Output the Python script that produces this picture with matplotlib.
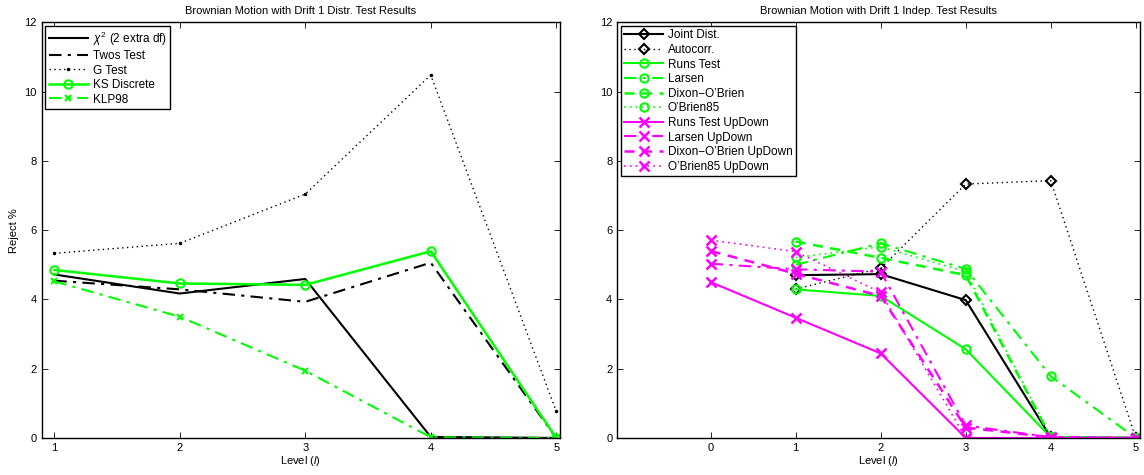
import matplotlib
matplotlib.use("Agg")
import matplotlib.pyplot as plt

plt.rcParams['font.family'] = ['Liberation Sans', 'DejaVu Sans']
plt.rcParams['mathtext.fontset'] = 'custom'
plt.rcParams['mathtext.rm'] = 'Liberation Sans'
plt.rcParams['mathtext.it'] = 'Liberation Sans:italic'

# left panel: distribution tests
levels_left = [1, 2, 3, 4, 5]
chi2 = [4.72, 4.17, 4.59, 0.03, 0.0]
twos = [4.54, 4.29, 3.93, 5.06, 0.0]
g_test = [5.33, 5.62, 7.04, 10.48, 0.77]
ks_discrete = [4.85, 4.46, 4.42, 5.39, 0.0]
klp98 = [4.52, 3.50, 1.94, 0.02, 0.0]

# right panel: independence tests
levels_right = [1, 2, 3, 4, 5]
joint_dist = [4.70, 4.73, 3.98, 0.02, 0.0]
autocorr = [4.30, 4.90, 7.33, 7.43, 0.0]
runs = [4.29, 4.10, 2.56, 0.02, 0.0]
larsen = [5.00, 5.62, 4.88, 1.78, 0.0]
dixon = [5.67, 5.20, 4.70, 0.02, 0.0]
obrien85 = [5.21, 5.52, 4.80, 0.02, 0.0]
levels_updown = [0, 1, 2, 3, 4, 5]
runs_ud = [4.50, 3.47, 2.44, 0.0, 0.0, 0.0]
larsen_ud = [5.03, 4.87, 4.80, 0.36, 0.02, 0.0]
dixon_ud = [5.40, 4.74, 4.10, 0.30, 0.02, 0.0]
obrien85_ud = [5.71, 5.38, 4.20, 0.0, 0.0, 0.0]

GREEN = '#00ff00'
MAG = '#ff00ff'
DASH = (0, (4, 3))
DASHDOT = (0, (6, 3, 1.5, 3))
DOT = (0, (1, 2.5))

fig = plt.figure(figsize=(11.44, 4.75), dpi=100)
ax1 = fig.add_axes([0.0365, 0.078, 0.453, 0.875])
ax2 = fig.add_axes([0.5395, 0.078, 0.457, 0.875])

ax1.plot(levels_left, chi2, color='k', lw=1.5, ls='-', label=r'$\chi^2$ (2 extra df)')
ax1.plot(levels_left, twos, color='k', lw=1.5, ls=DASHDOT, label='Twos Test')
ax1.plot(levels_left, g_test, color='k', lw=1.0, ls=DOT, marker='.', ms=3, label='G Test')
ax1.plot(levels_left, ks_discrete, color=GREEN, lw=1.8, ls='-', marker='o', ms=6,
         mfc='none', mew=1.5, label='KS Discrete')
ax1.plot(levels_left, klp98, color=GREEN, lw=1.5, ls=DASHDOT, marker='x', ms=4,
         mew=1.5, label='KLP98')
ax1.set_xlim(0.9, 5.03)
ax1.set_xticks(levels_left)
ax1.set_title('Brownian Motion with Drift 1 Distr. Test Results', fontsize=8, pad=6)
ax1.set_ylabel('Reject %', fontsize=8)

ax2.plot(levels_right, joint_dist, color='k', lw=1.5, ls='-', marker='D', ms=5,
         mfc='none', mew=1.5, label='Joint Dist.')
ax2.plot(levels_right, autocorr, color='k', lw=1.0, ls=DOT, marker='D', ms=5,
         mfc='none', mew=1.5, label='Autocorr.')
ax2.plot(levels_right, runs, color=GREEN, lw=1.5, ls='-', marker='o', ms=6,
         mfc='none', mew=1.5, label='Runs Test')
ax2.plot(levels_right, larsen, color=GREEN, lw=1.5, ls=DASHDOT, marker='o', ms=6,
         mfc='none', mew=1.5, label='Larsen')
ax2.plot(levels_right, dixon, color=GREEN, lw=1.8, ls=DASH, marker='o', ms=6,
         mfc='none', mew=1.5, label='Dixon\u2212O\u2019Brien')
ax2.plot(levels_right, obrien85, color=GREEN, lw=1.2, ls=DOT, marker='o', ms=6,
         mfc='none', mew=1.5, label='O\u2019Brien85')
ax2.plot(levels_updown, runs_ud, color=MAG, lw=1.5, ls='-', marker='x', ms=7,
         mew=1.8, label='Runs Test UpDown')
ax2.plot(levels_updown, larsen_ud, color=MAG, lw=1.5, ls=DASHDOT, marker='x', ms=7,
         mew=1.8, label='Larsen UpDown')
ax2.plot(levels_updown, dixon_ud, color=MAG, lw=1.8, ls=DASH, marker='x', ms=7,
         mew=1.8, label='Dixon\u2212O\u2019Brien UpDown')
ax2.plot(levels_updown, obrien85_ud, color=MAG, lw=1.2, ls=DOT, marker='x', ms=7,
         mew=1.8, label='O\u2019Brien85 UpDown')
ax2.set_xlim(-1.1, 5.05)
ax2.set_xticks(levels_updown)
ax2.set_title('Brownian Motion with Drift 1 Indep. Test Results', fontsize=8, pad=6)

for ax, spacing in ((ax1, 0.21), (ax2, 0.22)):
    ax.set_ylim(0, 12)
    ax.set_yticks([0, 2, 4, 6, 8, 10, 12])
    ax.tick_params(direction='in', top=True, right=True, labelsize=8, length=4, width=0.6)
    for s in ax.spines.values():
        s.set_linewidth(1.0)
    ax.set_xlabel('Level ($l$)', fontsize=8, labelpad=1)
    leg = ax.legend(loc='upper left', fontsize=8.5, frameon=True, fancybox=False,
                    edgecolor='k', framealpha=1, handlelength=3.3, borderpad=0.3,
                    labelspacing=spacing, handletextpad=0.4, borderaxespad=0.3)
    leg.get_frame().set_linewidth(1.0)

fig.savefig('out.png', dpi=100)
